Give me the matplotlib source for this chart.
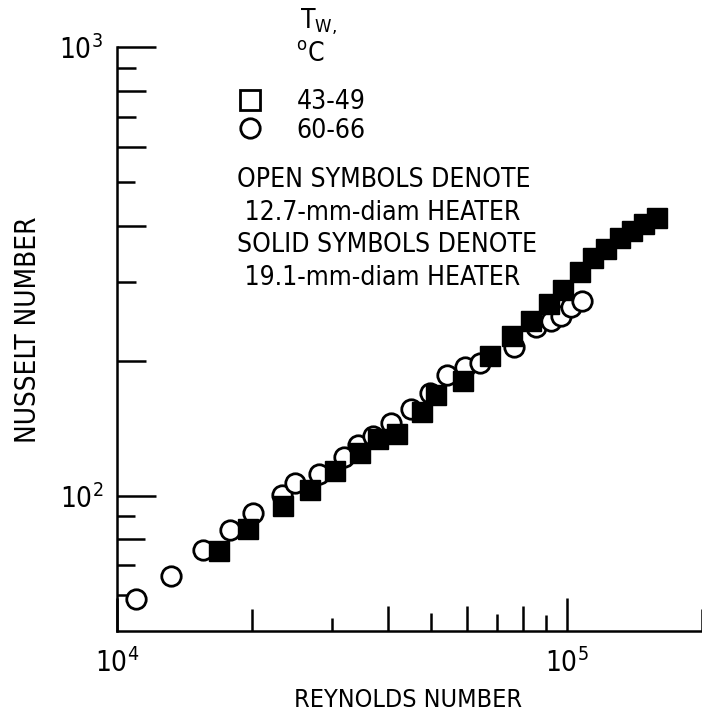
import matplotlib
matplotlib.use("Agg")
import matplotlib.pyplot as plt
from matplotlib import font_manager as fm
from matplotlib.ticker import FixedLocator, NullFormatter
from matplotlib.lines import Line2D

# narrow lettering if a condensed face is around, else plain Liberation Sans a bit smaller
narrow = [f for f in fm.fontManager.ttflist
          if ('Condensed' in f.fname or 'Narrow' in f.fname)
          and not any(k in f.fname for k in ('Bold', 'Oblique', 'Italic', 'Light', 'Thin', 'Black', 'Medium'))]
if narrow:
    plt.rcParams['font.family'] = [narrow[0].name, 'DejaVu Sans']
    plt.rcParams['font.stretch'] = narrow[0].stretch
    fs = 20
else:
    plt.rcParams['font.family'] = ['Liberation Sans', 'DejaVu Sans']
    fs = 17
plt.rcParams['mathtext.default'] = 'regular'

# Nusselt number against Reynolds number
# open circles: 12.7-mm heater, Tw = 60-66 C
re_open = [1.105e4, 1.319e4, 1.55e4, 1.785e4, 2.006e4, 2.333e4, 2.492e4, 2.815e4,
           3.192e4, 3.443e4, 3.716e4, 4.07e4, 4.502e4, 4.978e4, 5.425e4, 5.943e4,
           6.412e4, 7.656e4, 8.555e4, 9.23e4, 9.71e4, 1.021e5, 1.08e5]
nu_open = [58.8, 66.3, 75.9, 83.8, 91.6, 100.7, 106.6, 111.8,
           122.3, 130.1, 135.7, 145.2, 156.3, 169.1, 185.6, 193.6,
           197.8, 214.1, 237.6, 245.4, 251.9, 264.0, 271.2]

# solid squares: 19.1-mm heater, Tw = 43-49 C
re_solid = [1.682e4, 1.957e4, 2.335e4, 2.692e4, 3.052e4, 3.465e4, 3.81e4, 4.2e4,
            4.763e4, 5.135e4, 5.886e4, 6.745e4, 7.576e4, 8.334e4, 9.127e4, 9.84e4,
            1.072e5, 1.144e5, 1.221e5, 1.311e5, 1.40e5, 1.488e5, 1.589e5]
nu_solid = [75.2, 84.4, 95.1, 103.0, 113.7, 124.3, 133.7, 137.5,
            154.0, 167.4, 180.2, 205.2, 226.6, 245.1, 267.7, 287.9,
            316.1, 338.2, 354.5, 375.4, 389.6, 404.2, 415.0]

x_minor = [2e4, 3e4, 4e4, 5e4, 6e4, 7e4, 8e4, 9e4, 2e5]
x_minor_len = [16, 9.5, 18, 13, 18, 12.5, 18, 11.5, 16]
y_minor = [60, 70, 80, 90, 200, 300, 400, 500, 600, 700, 800, 900]
y_minor_len = [20, 13, 20, 13, 21, 14, 21, 13, 21, 14, 21, 14]

fig = plt.figure(figsize=(7.02, 7.18), dpi=100)
ax = fig.add_axes([117/702, 1-631/718, 585/702, 584/718])

ax.plot(re_open, nu_open, 'o', ms=14, mfc='white', mec='black', mew=2.0, ls='none')
ax.plot(re_solid, nu_solid, 's', ms=14.5, mfc='black', mec='black', mew=1.0, ls='none')

ax.set_xscale('log')
ax.set_yscale('log')
ax.set_xlim(1e4, 2e5)
ax.set_ylim(50, 1000)

for s in ['top', 'right']:
    ax.spines[s].set_visible(False)
for s in ['left', 'bottom']:
    ax.spines[s].set_linewidth(1.8)

ax.xaxis.set_major_locator(FixedLocator([1e4, 1e5]))
ax.xaxis.set_minor_locator(FixedLocator(x_minor))
ax.xaxis.set_minor_formatter(NullFormatter())
ax.yaxis.set_major_locator(FixedLocator([100, 1000]))
ax.yaxis.set_minor_locator(FixedLocator(y_minor))
ax.yaxis.set_minor_formatter(NullFormatter())

ax.tick_params(which='both', direction='in', width=1.8, labelsize=fs)
ax.tick_params(axis='x', which='major', length=24, pad=12)
ax.tick_params(axis='y', which='major', length=28, pad=10)

# alternating long/short minor ticks
for t, l in zip(ax.xaxis.get_minor_ticks(), x_minor_len):
    t.tick1line.set_markersize(l)
for t, l in zip(ax.yaxis.get_minor_ticks(), y_minor_len):
    t.tick1line.set_markersize(l)

fig.text(28/702, 1-330/718, 'NUSSELT NUMBER', rotation=90, ha='center', va='center', fontsize=fs)
fig.text(408/702, 1-700/718, 'REYNOLDS NUMBER', ha='center', va='center', fontsize=fs - 2)

# key
fig.text(300/702, 1-22/718, r'$T_{W,}$', ha='left', va='center', fontsize=fs - 1)
fig.text(296/702, 1-54/718, r'$^{o}C$', ha='left', va='center', fontsize=fs - 1)

handles = [Line2D([], [], marker='s', ms=14, mfc='white', mec='black', mew=2.0, ls='none'),
           Line2D([], [], marker='o', ms=14, mfc='white', mec='black', mew=2.0, ls='none')]
fig.legend(handles, ['43-49', '60-66'], loc='upper left', bbox_to_anchor=(236/702, 1-89/718),
           frameon=False, fontsize=fs - 1, handlelength=1.05, handletextpad=1.25,
           labelspacing=0.1, borderpad=0, borderaxespad=0)

notes = ['OPEN SYMBOLS DENOTE', ' 12.7-mm-diam HEATER', 'SOLID SYMBOLS DENOTE', ' 19.1-mm-diam HEATER']
for i, line in enumerate(notes):
    fig.text(237/702, 1-(180 + 32.7*i)/718, line, ha='left', va='center', fontsize=fs - 1)

fig.savefig('out.png', dpi=100)
